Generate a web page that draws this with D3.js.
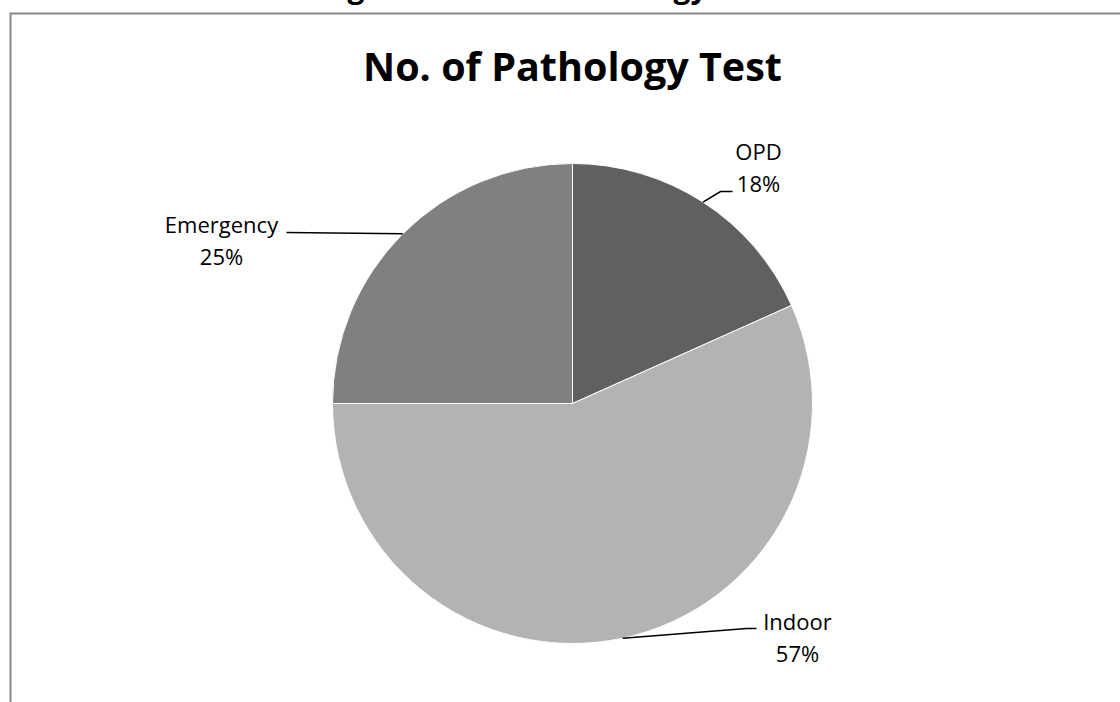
<!DOCTYPE html>
<html>
<head>
<meta charset="utf-8">
<script src="https://cdn.jsdelivr.net/npm/d3@7"></script>
<style>
  body { margin: 0; background: #fff; }
  svg { display: block; }
  text { font-family: "Open Sans", "DejaVu Sans", sans-serif; fill: #000; }
</style>
</head>
<body>
<script>
'use strict';

// data
let categories = ["OPD", "Indoor", "Emergency"];
let shares = [18.3, 56.7, 25.0];          // percent of tests
let percentLabels = ["18%", "57%", "25%"];
let sliceColors = ["#606060", "#b3b3b3", "#808080"];

let chartTitle = "No. of Pathology Test";
let pageHeading = "Chart Showing Sectionwise Pathology Tests"; // cut off above the frame

(function() {
  let width = 1120, height = 702;
  let cx = 572.5, cy = 403.5, radius = 240;

  let svg = d3.select('body')
    .append('svg')
    .attr('width', width)
    .attr('height', height);

  // heading of the page above, only its descenders show
  svg.append('text')
    .attr('x', 470)
    .attr('y', -2)
    .attr('text-anchor', 'middle')
    .style('font-size', '30px')
    .style('font-weight', 'bold')
    .text(pageHeading);

  // chart frame (only top and left edges are visible)
  svg.append('path')
    .attr('d', 'M10.5,' + height + 'V13.5H' + width)
    .attr('fill', 'none')
    .attr('stroke', '#888')
    .attr('stroke-width', 2);

  // title, sized to fit the width seen in the picture
  let title = svg.append('text')
    .attr('x', 572.5)
    .attr('y', 81)
    .attr('text-anchor', 'middle')
    .style('font-size', '32px')
    .style('font-weight', 'bold')
    .text(chartTitle);
  let tw = title.node().getComputedTextLength();
  title.style('font-size', (32 * 419 / tw) + 'px');

  let pie = d3.pie().sort(null).value((d) => d.value);
  let rows = categories.map((c, i) => ({ name: c, value: shares[i], label: percentLabels[i], color: sliceColors[i] }));
  let arcs = pie(rows);

  let arc = d3.arc().innerRadius(0).outerRadius(radius);

  let g = svg.append('g')
    .attr('transform', 'translate(' + cx + ',' + cy + ')');

  g.selectAll('path.slice')
    .data(arcs)
    .enter()
    .append('path')
      .attr('class', 'slice')
      .attr('d', arc)
      .attr('fill', (d) => d.data.color)
      .attr('stroke', '#fff')
      .attr('stroke-width', 1);

  // label placement (relative to pie centre): text centre x, first baseline y,
  // and the elbow/end of the leader line
  let labelLayout = {
    "OPD":       { x: 186, y: -244, elbow: [148, -212], end: [160, -212] },
    "Indoor":    { x: 225, y: 226,  elbow: [174, 225],  end: [184, 225] },
    "Emergency": { x: -351, y: -171, elbow: [-286, -171], end: [-286, -171] }
  };

  arcs.forEach((d) => {
    let lay = labelLayout[d.data.name];
    let a = (d.startAngle + d.endAngle) / 2;
    let p0 = [radius * Math.sin(a), -radius * Math.cos(a)];

    g.append('polyline')
      .attr('points', [p0, lay.elbow, lay.end].map((p) => p.join(',')).join(' '))
      .attr('fill', 'none')
      .attr('stroke', '#000')
      .attr('stroke-width', 1.6);

    let t = g.append('text')
      .attr('text-anchor', 'middle')
      .style('font-size', '22px');
    t.append('tspan')
      .attr('x', lay.x)
      .attr('y', lay.y)
      .text(d.data.name);
    t.append('tspan')
      .attr('x', lay.x)
      .attr('y', lay.y + 32)
      .text(d.data.label);
  });
})();
</script>
</body>
</html>
